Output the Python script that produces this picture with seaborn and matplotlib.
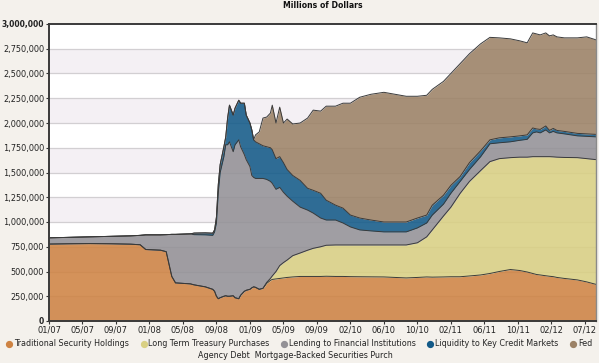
import matplotlib
matplotlib.use("Agg")
import matplotlib.pyplot as plt
from matplotlib.lines import Line2D
import pandas as pd
import seaborn as sns

# weekly index since the first week of 2007
week = [0, 11, 22, 33, 44, 49, 52, 60, 63, 66, 68, 76, 78, 84, 88, 89, 90, 91, 92, 94,
        95, 96, 97, 99, 100, 102, 103, 105, 106, 108, 109, 110, 111, 113, 115, 117, 119,
        120, 122, 124, 126, 128, 131, 135, 139, 142, 146, 149, 154, 158, 162, 167, 173,
        180, 186, 192, 198, 203, 206, 212, 216, 221, 226, 232, 237, 242, 248, 253, 257,
        260, 262, 264, 267, 269, 271, 273, 277, 284, 289, 294]

# values in thousands of millions of dollars
traditional = [777, 780, 782, 780, 776, 770, 722, 715, 700, 450, 385, 375, 365, 345, 320, 300,
               250, 225, 235, 250, 255, 250, 250, 255, 235, 225, 260, 300, 310, 320, 335, 345,
               340, 320, 330, 380, 410, 420, 425, 430, 435, 440, 445, 450, 450, 450, 450, 452,
               450, 450, 448, 447, 446, 445, 440, 435, 440, 445, 443, 445, 447, 447, 455, 465,
               480, 500, 520, 510, 495, 480, 470, 465, 457, 452, 448, 440, 430, 415, 395, 370]
long_term = [0, 0, 0, 0, 0, 0, 0, 0, 0, 0, 0, 0, 0, 0, 0, 0, 0, 0, 0, 0,
             0, 0, 0, 0, 0, 0, 0, 0, 0, 0, 0, 0, 0, 0, 0, 10, 20, 35, 75, 130,
             155, 176, 215, 237, 265, 284, 300, 313, 318, 318, 320, 321, 322, 323, 328, 333,
             350, 405, 477, 615, 703, 843, 955, 1055, 1130, 1140, 1130, 1145, 1160, 1180,
             1190, 1195, 1203, 1208, 1210, 1215, 1222, 1235, 1245, 1260]
lending = [63, 65, 68, 75, 84, 95, 148, 155, 172, 425, 490, 505, 507, 525, 545, 600, 740, 1075,
           1265, 1410, 1525, 1530, 1560, 1455, 1545, 1605, 1500, 1380, 1320, 1240, 1135, 1105,
           1100, 1120, 1110, 1040, 980, 935, 830, 790, 710, 644, 550, 463, 405, 356, 290, 255,
           252, 222, 182, 152, 142, 132, 132, 132, 150, 140, 150, 120, 140, 120, 120, 140,
           180, 160, 160, 170, 180, 240, 250, 240, 270, 240, 257, 245, 238, 220, 225, 230]
liquidity = [0, 0, 0, 0, 0, 0, 0, 0, 0, 0, 0, 0, 16, 20, 22, 20, 60, 80, 80, 100,
             80, 270, 370, 370, 370, 400, 440, 520, 450, 440, 460, 380, 370, 350, 330, 330,
             340, 340, 310, 310, 300, 270, 260, 270, 220, 230, 250, 200, 150, 150, 120, 120,
             110, 100, 100, 100, 100, 80, 100, 90, 80, 50, 70, 60, 40, 50, 50, 45, 45, 50,
             30, 35, 40, 25, 30, 25, 25, 25, 25, 25]
fed_agency = [0, 0, 0, 0, 0, 0, 0, 0, 0, 0, 0, 0, 0, 0, 0, 0, 0, 0, 0, 0,
              0, 0, 0, 0, 0, 0, 0, 0, 0, 0, 0, 0, 70, 120, 280, 300, 350, 450, 360, 500,
              400, 510, 520, 580, 710, 810, 830, 950, 1000, 1060, 1130, 1220, 1270, 1310,
              1290, 1270, 1230, 1210, 1170, 1150, 1130, 1140, 1100, 1080, 1035, 1010, 990,
              960, 930, 960, 960, 955, 940, 955, 945, 945, 945, 965, 980, 955]

tick_labels = ["01/07", "05/07", "09/07", "01/08", "05/08", "09/08", "01/09", "05/09", "09/09",
               "02/10", "06/10", "10/10", "02/11", "06/11", "10/11", "02/12", "07/12"]
tick_step = 18

series = ["Traditional Security Holdings", "Long Term Treasury Purchases",
          "Lending to Financial Institutions", "Liquidity to Key Credit Markets", "Fed"]
colors = ["#CE8343", "#D9D083", "#939196", "#135A88", "#9C8266"]


def main():
    sns.set_style("white")
    plt.rcParams['font.family'] = ['DejaVu Sans']

    df = pd.DataFrame({
        'week': week,
        series[0]: traditional,
        series[1]: long_term,
        series[2]: lending,
        series[3]: liquidity,
        series[4]: fed_agency,
    })
    df[series] = df[series] * 1000

    fig = plt.figure(figsize=(5.99, 3.63), dpi=100, facecolor='#F4F1EC')
    ax = fig.add_axes([49 / 599, 1 - 321 / 363, (596 - 49) / 599, (321 - 24) / 363])

    # alternating bands + grid lines
    for i, lo in enumerate(range(0, 3000000, 250000)):
        ax.axhspan(lo, lo + 250000, color='#F4F0F4' if i % 2 == 0 else 'white', lw=0, zorder=0)
        if lo > 0:
            ax.axhline(lo, color='#D2CFD2', lw=0.9, zorder=0.5)

    ax.stackplot(df['week'], *[df[c] for c in series], colors=colors, alpha=0.88,
                 lw=0, zorder=1)

    # dark outline on top of each layer
    cum = df[series].cumsum(axis=1)
    for c in series:
        sns.lineplot(x=df['week'], y=cum[c], ax=ax, color='#3A3A3A', lw=0.7,
                     zorder=2, legend=False)

    ax.set_xlim(0, 294)
    ax.set_ylim(0, 3000000)
    ax.set_xlabel('')
    ax.set_ylabel('')

    ax.set_xticks([i * tick_step for i in range(len(tick_labels))], tick_labels)
    yt = list(range(0, 3000001, 250000))
    ax.set_yticks(yt, [f"{v:,}" for v in yt])
    ax.tick_params(axis='both', labelsize=6, length=2, color='#333333', pad=1.5,
                   bottom=True, left=True, labelcolor='#222222')
    ax.tick_params(axis='y', labelsize=5.9)
    ylabels = ax.get_yticklabels()
    for lab in (ylabels[0], ylabels[-1]):
        lab.set_fontweight('bold')
        lab.set_fontsize(5.5)

    for side in ['left', 'top', 'bottom']:
        ax.spines[side].set_color('#3A3A3A')
        ax.spines[side].set_linewidth(1.4)
    ax.spines['right'].set_color('#8A8A8A')
    ax.spines['right'].set_linewidth(1.0)

    fig.text(0.539, 1 - 5.5 / 363, "Millions of Dollars", ha='center', va='center',
             fontsize=5.6, fontweight='bold', color='#111111')

    handles = [Line2D([], [], marker='o', ls='', color=c, markersize=4.2) for c in colors]
    fig.legend(handles, series, loc='center', bbox_to_anchor=(0.5, 1 - 344 / 363),
               ncol=5, frameon=False, fontsize=5.8, handlelength=0.6, handletextpad=0.3,
               columnspacing=1.5, borderaxespad=0, borderpad=0)
    fig.text(295 / 599, 1 - 355 / 363, "Agency Debt  Mortgage-Backed Securities Purch",
             ha='center', va='center', fontsize=5.8, color='#222222')

    fig.savefig('out.png', dpi=100, facecolor=fig.get_facecolor())
    plt.close(fig)


if __name__ == "__main__":
    main()
